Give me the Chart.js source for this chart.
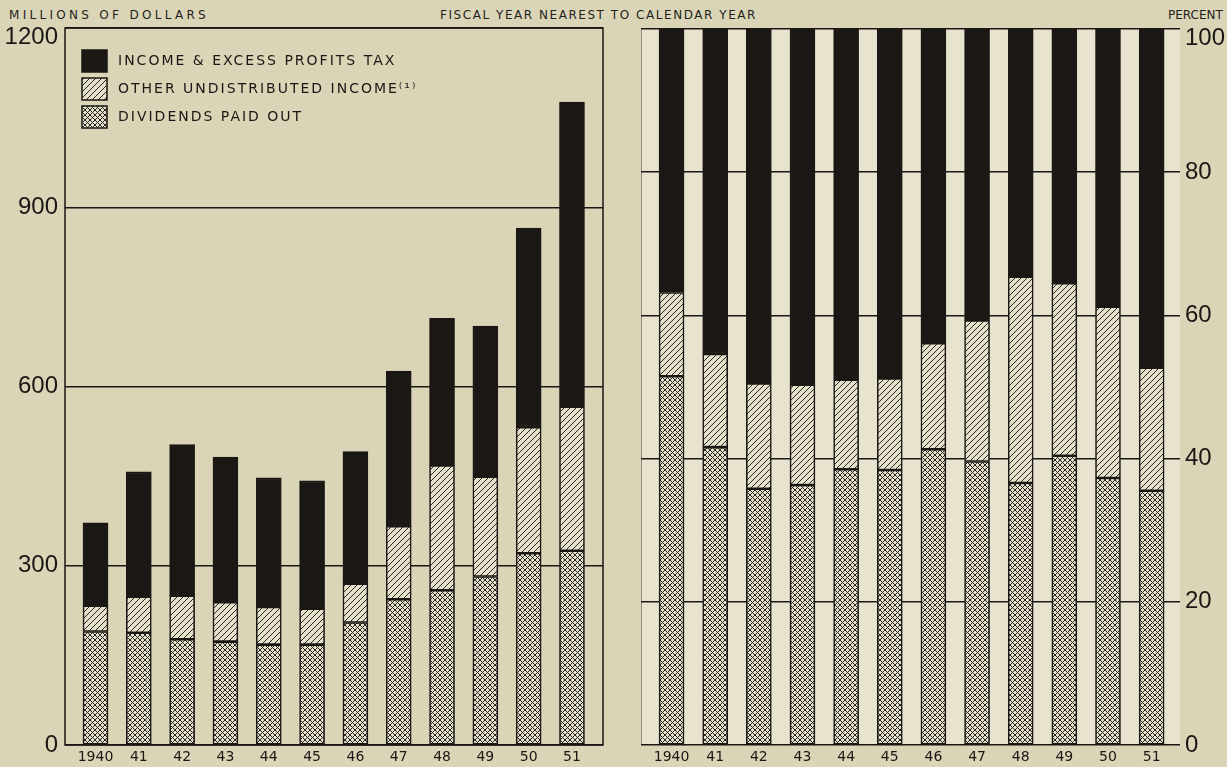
<!DOCTYPE html>
<html>
<head>
<meta charset="utf-8">
<script src="https://cdn.jsdelivr.net/npm/chart.js@4.4.1/dist/chart.umd.min.js"></script>
<style>
  body { margin: 0; width: 1227px; height: 767px; overflow: hidden; position: relative;
         background: #dbd5b8; font-family: 'DejaVu Sans', sans-serif; color: #231f1b; }
  canvas { position: absolute; top: 0; }
  .title { position: absolute; font-size: 12px; line-height: 1; white-space: nowrap; }
</style>
</head>
<body>
<div class="title" style="left:9px; top:9px; letter-spacing:3.3px">MILLIONS OF DOLLARS</div>
<div class="title" style="left:440px; top:9px; letter-spacing:1.55px">FISCAL YEAR NEAREST TO CALENDAR YEAR</div>
<div class="title" style="left:1168px; top:9px; letter-spacing:0px">PERCENT</div>
<canvas id="leftChart" width="615" height="767" style="left:0"></canvas>
<canvas id="rightChart" width="612" height="767" style="left:615px"></canvas>
<script>
const years = ['1940', '41', '42', '43', '44', '45', '46', '47', '48', '49', '50', '51'];

// millions of dollars, stacked from the bottom
const dividends = [190, 188, 177, 173, 168, 168, 205, 244, 259, 282, 321, 325];
const undistributed = [43, 60, 73, 66, 63, 60, 65, 122, 209, 167, 211, 241];
const taxes = [139, 209, 253, 243, 216, 214, 221, 260, 246, 252, 333, 510];

// percent of total, stacked from the bottom
const dividendsPct = [51.5, 41.6, 35.8, 36.3, 38.5, 38.4, 41.3, 39.6, 36.6, 40.4, 37.3, 35.5];
const undistributedPct = [11.7, 13.0, 14.7, 14.0, 12.5, 12.8, 14.8, 19.7, 28.8, 24.1, 23.9, 17.2];
const taxesPct = [36.8, 45.4, 49.5, 49.7, 49.0, 48.8, 43.9, 40.7, 34.6, 35.5, 38.8, 47.3];

const dollarTicks = [0, 300, 600, 900, 1200];
const percentTicks = [0, 20, 40, 60, 80, 100];

const ink = '#1a1714';
const numFont = "'Liberation Sans', sans-serif";

function makePattern(ctx, size, cross) {
    const tile = document.createElement('canvas');
    tile.width = tile.height = size;
    const g = tile.getContext('2d');
    g.fillStyle = '#e5e0ca';
    g.fillRect(0, 0, size, size);
    g.strokeStyle = '#2a2520';
    g.lineWidth = 1;
    const line = (x0, y0, x1, y1) => { g.beginPath(); g.moveTo(x0, y0); g.lineTo(x1, y1); g.stroke(); };
    line(0, size, size, 0);
    line(-1, 1, 1, -1);
    line(size - 1, size + 1, size + 1, size - 1);
    if (cross) {
        line(0, 0, size, size);
        line(-1, size - 1, 1, size + 1);
        line(size - 1, -1, size + 1, 1);
    }
    return ctx.createPattern(tile, 'repeat');
}

const leftCtx = document.getElementById('leftChart').getContext('2d');
const rightCtx = document.getElementById('rightChart').getContext('2d');
const hatch = makePattern(leftCtx, 6, false);
const crossHatch = makePattern(leftCtx, 5, true);

function points(values) {
    return values.map((v, i) => ({ x: i, y: v }));
}

function makeDatasets(div, und, tax) {
    return [
        { label: 'DIVIDENDS PAID OUT', data: points(div), backgroundColor: crossHatch },
        { label: 'OTHER UNDISTRIBUTED INCOME⁽¹⁾', data: points(und), backgroundColor: hatch },
        { label: 'INCOME & EXCESS PROFITS TAX', data: points(tax), backgroundColor: ink }
    ].map(d => Object.assign(d, {
        borderColor: ink,
        borderWidth: 1.6,
        borderSkipped: false,
        barThickness: 25
    }));
}

function xAxis(min, max) {
    return {
        type: 'linear',
        min: min,
        max: max,
        offset: false,
        stacked: true,
        grid: { display: false, drawTicks: false },
        border: { display: false },
        afterBuildTicks: s => { s.ticks = years.map((_, i) => ({ value: i })); },
        afterFit: s => { s.height = 22; },
        ticks: {
            autoSkip: false,
            maxRotation: 0,
            padding: 4,
            color: ink,
            font: { family: "'DejaVu Sans', sans-serif", size: 14 },
            callback: v => years[v]
        }
    };
}

function yAxis(max, tickValues, side, width, pad) {
    return {
        position: side,
        min: 0,
        max: max,
        stacked: true,
        afterBuildTicks: s => { s.ticks = tickValues.map(v => ({ value: v })); },
        afterFit: s => { s.width = width; },
        grid: { color: ink, lineWidth: 1.5, drawTicks: false },
        border: { display: false },
        ticks: {
            padding: pad,
            color: ink,
            font: { family: numFont, size: 24, lineHeight: 0.8 },
            // top label sits a little below its line, under the headings
            callback: v => v === max ? ['', String(v)] : String(v)
        }
    };
}

const legendOnLeft = {
    id: 'legendOnLeft',
    afterDraw(chart) {
        const c = chart.ctx;
        const area = chart.chartArea;
        c.save();
        c.strokeStyle = ink;
        c.lineWidth = 1.5;
        c.strokeRect(area.left, area.top, area.right - area.left, area.bottom - area.top);

        const rows = chart.data.datasets.slice().reverse();
        c.font = "14px 'DejaVu Sans', sans-serif";
        c.letterSpacing = '2px';
        c.textBaseline = 'middle';
        rows.forEach((ds, i) => {
            const y = 50 + i * 28;
            c.fillStyle = ds.backgroundColor;
            c.fillRect(82, y, 25, 22);
            c.strokeRect(82, y, 25, 22);
            c.fillStyle = ink;
            c.fillText(ds.label, 118, y + 11);
        });
        c.restore();
    }
};

const paperStrips = {
    id: 'paperStrips',
    beforeDraw(chart) {
        const c = chart.ctx;
        const a = chart.chartArea;
        c.save();
        c.fillStyle = '#e7e3ce';
        c.fillRect(a.left, a.top, a.right - a.left, a.bottom - a.top);
        c.restore();
    },
    afterDraw(chart) {
        const c = chart.ctx;
        const a = chart.chartArea;
        c.save();
        c.strokeStyle = 'rgba(40, 35, 30, 0.45)';
        c.lineWidth = 1;
        c.beginPath();
        c.moveTo(a.left + 0.5, a.top);
        c.lineTo(a.left + 0.5, a.bottom);
        c.stroke();
        c.restore();
    }
};

Chart.defaults.animation = false;
Chart.defaults.responsive = false;

new Chart(leftCtx, {
    type: 'bar',
    data: { datasets: makeDatasets(dividends, undistributed, taxes) },
    options: {
        layout: { padding: { top: 28, right: 12, left: 0, bottom: 0 } },
        plugins: { legend: { display: false }, tooltip: { enabled: false } },
        scales: {
            x: xAxis(-0.704, 11.716),
            y: yAxis(1200, dollarTicks, 'left', 65, 7)
        }
    },
    plugins: [legendOnLeft]
});

new Chart(rightCtx, {
    type: 'bar',
    data: { datasets: makeDatasets(dividendsPct, undistributedPct, taxesPct) },
    options: {
        layout: { padding: { top: 29, right: 0, left: 26, bottom: 0 } },
        plugins: { legend: { display: false }, tooltip: { enabled: false } },
        scales: {
            x: xAxis(-0.7, 11.65),
            y: yAxis(100, percentTicks, 'right', 47, 5)
        }
    },
    plugins: [paperStrips]
});
</script>
</body>
</html>
